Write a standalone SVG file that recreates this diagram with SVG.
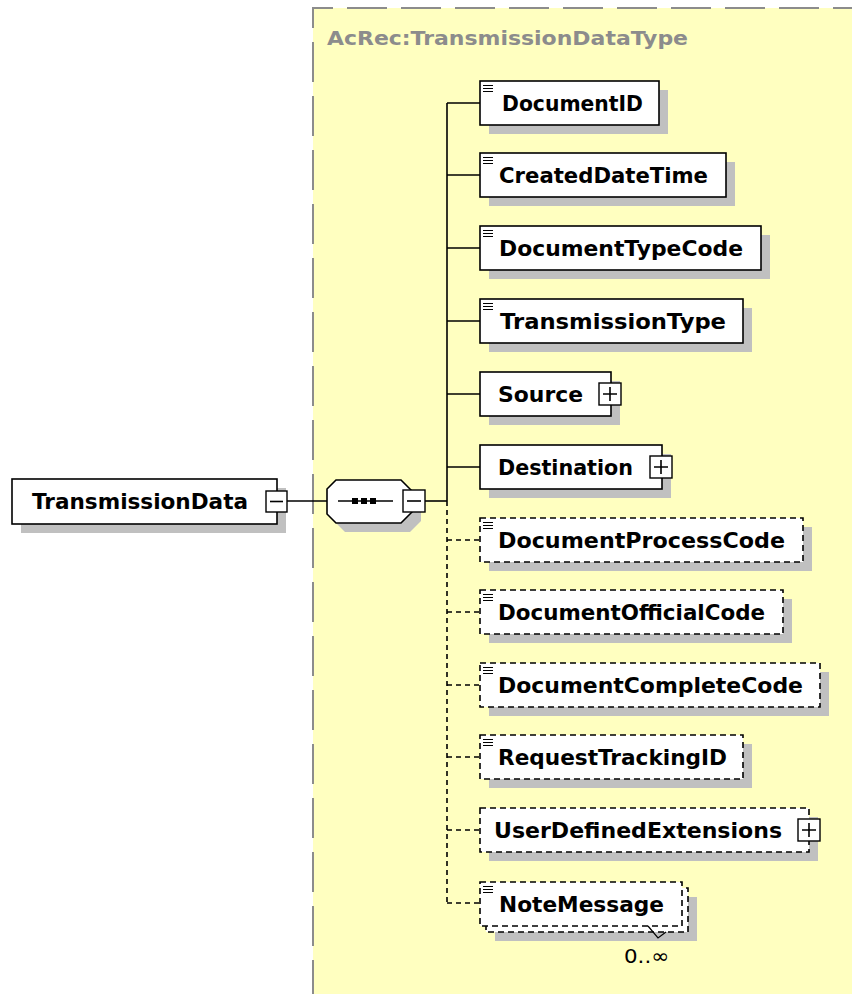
<svg xmlns="http://www.w3.org/2000/svg" width="852" height="994" viewBox="0 0 852 994">
<style>
.bg{fill:#FFFFC0}
.frame{fill:none;stroke:#8C8C8C;stroke-width:2;stroke-dasharray:40 14}
.title{font-family:"DejaVu Sans",Verdana,sans-serif;font-weight:bold;font-size:19px;fill:#8C8C8C}
.shadow{fill:#C0C0C0}
.box{fill:#FFFFFF;stroke:#000;stroke-width:1.6}
.obox{fill:#FFFFFF;stroke:#000;stroke-width:1.6;stroke-dasharray:6 4}
.lbl{font-family:"DejaVu Sans",Verdana,sans-serif;font-weight:bold;font-size:21px;fill:#000}
.mult{font-family:"DejaVu Sans",Verdana,sans-serif;font-size:20px;fill:#000}
.ic{stroke:#000;stroke-width:1.2}
.line{fill:none;stroke:#000;stroke-width:1.6}
.dline{fill:none;stroke:#000;stroke-width:1.6;stroke-dasharray:5 4}
.pm{fill:#FFFFFF;stroke:#000;stroke-width:1.4}
</style>
<rect x="0" y="0" width="852" height="994" fill="#FFFFFF"/>
<g id="complexType">
<rect class="bg" x="313" y="8" width="545" height="990"/>
<path class="frame" d="M313,1000 V8 H860"/>
<text class="title" x="327" y="45" textLength="361" lengthAdjust="spacingAndGlyphs">AcRec:TransmissionDataType</text>
</g>
<g id="connectors">
<line class="line" x1="287" y1="501" x2="327" y2="501"/>
<line class="line" x1="425" y1="501" x2="447" y2="501"/>
<line class="line" x1="447" y1="103" x2="447" y2="501"/>
<line class="dline" x1="447" y1="501" x2="447" y2="903"/>
<line class="line" x1="447" y1="103" x2="480" y2="103"/>
<line class="line" x1="447" y1="175" x2="480" y2="175"/>
<line class="line" x1="447" y1="248" x2="480" y2="248"/>
<line class="line" x1="447" y1="321" x2="480" y2="321"/>
<line class="line" x1="447" y1="394" x2="480" y2="394"/>
<line class="line" x1="447" y1="467" x2="480" y2="467"/>
<line class="dline" x1="447" y1="540" x2="480" y2="540"/>
<line class="dline" x1="447" y1="612" x2="480" y2="612"/>
<line class="dline" x1="447" y1="685" x2="480" y2="685"/>
<line class="dline" x1="447" y1="757" x2="480" y2="757"/>
<line class="dline" x1="447" y1="830" x2="480" y2="830"/>
<line class="dline" x1="447" y1="903" x2="480" y2="903"/>
</g>
<g id="TransmissionData">
<rect class="shadow" x="21" y="488" width="265" height="45"/>
<rect class="box" x="12" y="479" width="265" height="45"/>
<text class="lbl" x="32" y="509" textLength="216" lengthAdjust="spacingAndGlyphs">TransmissionData</text>
<rect class="pm" x="266" y="491" width="21" height="21"/>
<line class="line" x1="270" y1="501.5" x2="283" y2="501.5"/>
</g>
<g id="sequence">
<polygon class="shadow" points="345,489 410,489 421,500 421,521 410,532 345,532 336,523 336,498"/>
<polygon class="box" points="336,480 401,480 412,491 412,512 401,523 336,523 327,514 327,489"/>
<line class="line" x1="338" y1="501" x2="393" y2="501"/>
<rect x="352" y="498" width="6" height="6"/>
<rect x="361" y="498" width="6" height="6"/>
<rect x="370" y="498" width="6" height="6"/>
<rect class="pm" x="403" y="490" width="22" height="22"/>
<line class="line" x1="407" y1="501" x2="421" y2="501"/>
</g>
<g id="DocumentID">
<rect class="shadow" x="489" y="90" width="179" height="44"/>
<rect class="box" x="480" y="81" width="179" height="44"/>
<path class="ic" d="M483,85.5H493M483,88.5H493M483,91.5H493"/>
<text class="lbl" x="502" y="111" textLength="141" lengthAdjust="spacingAndGlyphs">DocumentID</text>
</g>
<g id="CreatedDateTime">
<rect class="shadow" x="489" y="162" width="246" height="44"/>
<rect class="box" x="480" y="153" width="246" height="44"/>
<path class="ic" d="M483,157.5H493M483,160.5H493M483,163.5H493"/>
<text class="lbl" x="499" y="183" textLength="209" lengthAdjust="spacingAndGlyphs">CreatedDateTime</text>
</g>
<g id="DocumentTypeCode">
<rect class="shadow" x="489" y="235" width="281" height="44"/>
<rect class="box" x="480" y="226" width="281" height="44"/>
<path class="ic" d="M483,230.5H493M483,233.5H493M483,236.5H493"/>
<text class="lbl" x="499" y="256" textLength="244" lengthAdjust="spacingAndGlyphs">DocumentTypeCode</text>
</g>
<g id="TransmissionType">
<rect class="shadow" x="489" y="308" width="263" height="44"/>
<rect class="box" x="480" y="299" width="263" height="44"/>
<path class="ic" d="M483,303.5H493M483,306.5H493M483,309.5H493"/>
<text class="lbl" x="500" y="329" textLength="226" lengthAdjust="spacingAndGlyphs">TransmissionType</text>
</g>
<g id="Source">
<rect class="shadow" x="489" y="381" width="131" height="44"/>
<rect class="box" x="480" y="372" width="131" height="44"/>
<text class="lbl" x="498" y="402" textLength="85" lengthAdjust="spacingAndGlyphs">Source</text>
<rect class="pm" x="599" y="383" width="22" height="22"/>
<path class="line" d="M603,394H617M610,387V401"/>
</g>
<g id="Destination">
<rect class="shadow" x="489" y="454" width="182" height="44"/>
<rect class="box" x="480" y="445" width="182" height="44"/>
<text class="lbl" x="498" y="475" textLength="135" lengthAdjust="spacingAndGlyphs">Destination</text>
<rect class="pm" x="650" y="456" width="22" height="22"/>
<path class="line" d="M654,467H668M661,460V474"/>
</g>
<g id="DocumentProcessCode">
<rect class="shadow" x="489" y="527" width="323" height="44"/>
<rect class="obox" x="480" y="518" width="323" height="44"/>
<path class="ic" d="M483,522.5H493M483,525.5H493M483,528.5H493"/>
<text class="lbl" x="498" y="548" textLength="287" lengthAdjust="spacingAndGlyphs">DocumentProcessCode</text>
</g>
<g id="DocumentOfficialCode">
<rect class="shadow" x="489" y="599" width="303" height="44"/>
<rect class="obox" x="480" y="590" width="303" height="44"/>
<path class="ic" d="M483,594.5H493M483,597.5H493M483,600.5H493"/>
<text class="lbl" x="498" y="620" textLength="267" lengthAdjust="spacingAndGlyphs">DocumentOfficialCode</text>
</g>
<g id="DocumentCompleteCode">
<rect class="shadow" x="489" y="672" width="340" height="44"/>
<rect class="obox" x="480" y="663" width="340" height="44"/>
<path class="ic" d="M483,667.5H493M483,670.5H493M483,673.5H493"/>
<text class="lbl" x="498" y="693" textLength="305" lengthAdjust="spacingAndGlyphs">DocumentCompleteCode</text>
</g>
<g id="RequestTrackingID">
<rect class="shadow" x="489" y="744" width="263" height="44"/>
<rect class="obox" x="480" y="735" width="263" height="44"/>
<path class="ic" d="M483,739.5H493M483,742.5H493M483,745.5H493"/>
<text class="lbl" x="498" y="765" textLength="229" lengthAdjust="spacingAndGlyphs">RequestTrackingID</text>
</g>
<g id="UserDefinedExtensions">
<rect class="shadow" x="489" y="817" width="329" height="44"/>
<rect class="obox" x="480" y="808" width="329" height="44"/>
<text class="lbl" x="494" y="838" textLength="288" lengthAdjust="spacingAndGlyphs">UserDefinedExtensions</text>
<rect class="pm" x="798" y="819" width="22" height="22"/>
<path class="line" d="M802,830H816M809,823V837"/>
</g>
<g id="NoteMessage">
<rect class="shadow" x="495" y="897" width="202" height="44"/>
<rect class="obox" x="486" y="888" width="202" height="44"/>
<rect class="obox" x="480" y="882" width="202" height="44"/>
<path class="ic" d="M483,886.5H493M483,889.5H493M483,892.5H493"/>
<text class="lbl" x="499" y="912" textLength="165" lengthAdjust="spacingAndGlyphs">NoteMessage</text>
<path class="line" d="M648,926L658,938L666,932" style="stroke-width:1.2"/>
<text class="mult" x="624" y="963" textLength="45" lengthAdjust="spacingAndGlyphs">0..∞</text>
</g>
</svg>
